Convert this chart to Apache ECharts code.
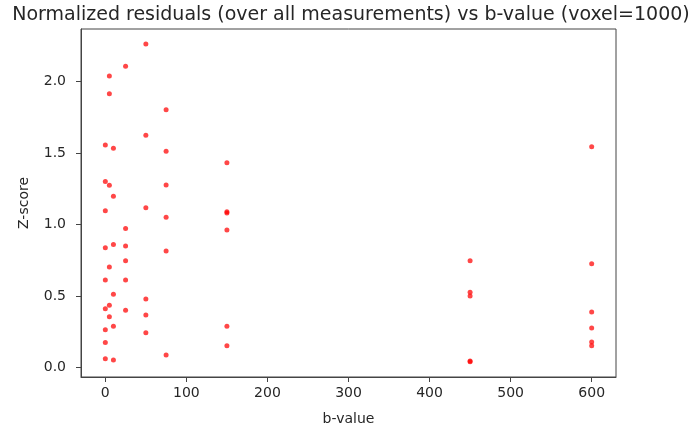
<!DOCTYPE html>
<html>
<head>
<meta charset="utf-8">
<script src="https://cdn.jsdelivr.net/npm/echarts@6/dist/echarts.min.js"></script>
<style>html,body{margin:0;padding:0;background:#fff;}#c{width:691px;height:427px;}</style>
</head>
<body>
<div id="c"></div>
<script>
var titleText = 'Normalized residuals (over all measurements) vs b-value (voxel=1000)';
var xLabel = 'b-value';
var yLabel = 'Z-score';
var xTicks = [0, 100, 200, 300, 400, 500, 600];
var yTicks = [0, 0.5, 1.0, 1.5, 2.0];

var bVal0 = [1.556, 1.30, 1.097, 0.838, 0.612, 0.411, 0.264, 0.176, 0.062];
var bVal5 = [2.038, 1.915, 1.274, 0.703, 0.435, 0.355];
var bVal10 = [1.533, 1.197, 0.861, 0.512, 0.288, 0.052];
var bVal25 = [2.106, 0.973, 0.85, 0.747, 0.612, 0.40];
var bVal50 = [2.262, 1.624, 1.118, 0.479, 0.367, 0.243];
var bVal75 = [1.803, 1.512, 1.276, 1.050, 0.815, 0.087];
var bVal150 = [1.432, 1.09, 1.08, 0.962, 0.288, 0.153];
var bVal450 = [0.747, 0.526, 0.50, 0.045, 0.040];
var bVal600 = [1.544, 0.726, 0.388, 0.276, 0.178, 0.153];

var groups = [[0, bVal0], [5, bVal5], [10, bVal10], [25, bVal25], [50, bVal50],
              [75, bVal75], [150, bVal150], [450, bVal450], [600, bVal600]];
var points = [];
groups.forEach(function (g) { g[1].forEach(function (v) { points.push([g[0], v]); }); });

var font = 'DejaVu Sans';
var txt = '#262626';
var chart = echarts.init(document.getElementById('c'), null, {renderer: 'canvas'});
chart.setOption({
  backgroundColor: '#ffffff',
  animation: false,
  title: {
    text: titleText, left: 346, top: 1, textAlign: 'center',
    textStyle: {fontFamily: font, fontSize: 19, fontWeight: 'normal', color: txt}
  },
  grid: {left: 81, right: 75, top: 29, bottom: 50, outerBoundsMode: 'none', containLabel: false,
    show: true, borderColor: '#444', borderWidth: 1, backgroundColor: 'transparent'},
  xAxis: {
    type: 'value', min: -30, max: 630,
    name: xLabel, nameLocation: 'middle', nameGap: 35,
    nameTextStyle: {fontFamily: font, fontSize: 14, color: txt},
    axisLine: {show: true, onZero: false, lineStyle: {color: '#444', width: 1}},
    axisTick: {show: true, length: 5, inside: false, customValues: xTicks, lineStyle: {color: '#444'}},
    axisLabel: {customValues: xTicks, margin: 9, fontFamily: font, fontSize: 14, color: txt},
    splitLine: {show: false}
  },
  yAxis: {
    type: 'value', min: -0.066, max: 2.367,
    name: yLabel, nameLocation: 'middle', nameGap: 50, nameRotate: 90,
    nameTextStyle: {fontFamily: font, fontSize: 14, color: txt},
    axisLine: {show: true, onZero: false, lineStyle: {color: '#444', width: 1}},
    axisTick: {show: true, length: 5, inside: false, customValues: yTicks, lineStyle: {color: '#444'}},
    axisLabel: {customValues: yTicks, margin: 15, fontFamily: font, fontSize: 14, color: txt,
      formatter: function (v) { return v.toFixed(1); }},
    splitLine: {show: false}
  },
  series: [{
    type: 'scatter',
    data: points,
    symbol: 'circle',
    symbolSize: 5,
    itemStyle: {color: 'rgba(255,0,0,0.9)'}
  }]
});
</script>
</body>
</html>
